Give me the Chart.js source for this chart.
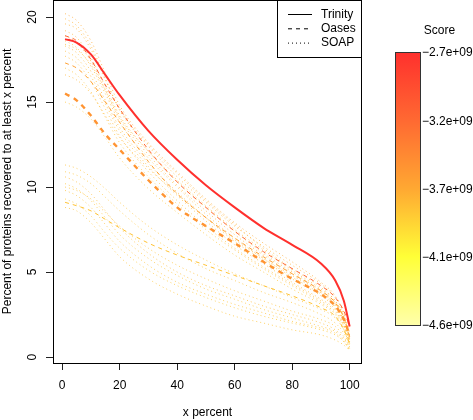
<!DOCTYPE html>
<html>
<head>
<meta charset="utf-8">
<script src="https://cdn.jsdelivr.net/npm/chart.js@4/dist/chart.umd.min.js"></script>
<style>
  html, body { margin: 0; padding: 0; background: #fff; }
</style>
</head>
<body>
<canvas id="grafico" width="473" height="420"></canvas>
<script>
// Dados
const xPercent = [1, 5, 10, 15, 20, 30, 40, 50, 60, 70, 80, 90, 95, 98, 100];
const xTicks = [0, 20, 40, 60, 80, 100];
const yTicks = [0, 5, 10, 15, 20];
const scoreLabels = ['\u22122.7e+09', '\u22123.2e+09', '\u22123.7e+09', '\u22124.1e+09', '\u22124.6e+09'];
const scoreMin = -4.6e9;
const scoreMax = -2.7e9;

// Trinity (linha contínua)
const trinity = [18.7, 18.5, 17.8, 16.6, 15.4, 13.3, 11.6, 10.1, 8.8, 7.6, 6.6, 5.5, 4.5, 3.3, 1.8];
const trinityScore = -2.7e9;

// Oases (tracejadas)
const oases = [
  [18.9, 18.6, 17.5, 16.0, 14.6, 12.2, 10.3, 8.8, 7.4, 6.2, 5.2, 4.2, 3.5, 2.7, 1.8],
  [15.5, 15.1, 14.2, 13.1, 12.2, 10.4, 8.8, 7.7, 6.7, 5.6, 4.6, 3.7, 3.0, 2.2, 1.3],
  [17.3, 17.0, 16.2, 15.0, 13.8, 11.5, 9.6, 8.2, 7.0, 5.9, 4.9, 3.9, 3.2, 2.3, 1.2],
  [9.1, 8.9, 8.6, 8.1, 7.6, 6.7, 6.0, 5.4, 4.8, 4.2, 3.6, 2.9, 2.4, 1.6, 0.8]
];
const oasesScores = [-3.15e9, -3.5e9, -3.6e9, -3.8e9];
const oasesWidth = [1, 2.4, 1, 1];

// SOAP (pontilhadas)
const soap = [
  [20.2, 19.8, 18.6, 16.7, 14.8, 12.6, 10.9, 9.3, 7.9, 6.7, 5.6, 4.4, 3.6, 2.6, 1.4],
  [19.9, 19.5, 18.3, 16.4, 14.5, 12.4, 10.6, 9.1, 7.7, 6.5, 5.4, 4.3, 3.5, 2.5, 1.3],
  [19.6, 19.3, 18.1, 16.3, 14.6, 12.5, 10.8, 9.2, 7.8, 6.4, 5.2, 4.1, 3.3, 2.4, 1.2],
  [19.2, 18.8, 17.6, 15.9, 14.2, 12.1, 10.3, 8.8, 7.4, 6.1, 5.0, 3.9, 3.2, 2.3, 1.1],
  [18.9, 18.5, 17.4, 15.7, 14.0, 11.9, 10.1, 8.6, 7.2, 6.0, 4.9, 3.8, 3.1, 2.3, 1.2],
  [18.6, 18.2, 17.1, 15.5, 13.8, 11.7, 10.0, 8.4, 7.0, 5.8, 4.7, 3.7, 3.0, 2.1, 1.0],
  [18.3, 17.9, 16.8, 15.1, 13.5, 11.4, 9.7, 8.2, 6.8, 5.7, 4.6, 3.6, 2.9, 2.0, 0.9],
  [18.0, 17.6, 16.5, 14.9, 13.3, 11.2, 9.5, 8.0, 6.6, 5.5, 4.4, 3.4, 2.8, 1.9, 0.9],
  [17.7, 17.3, 16.2, 14.6, 13.0, 10.9, 9.2, 7.7, 6.4, 5.3, 4.3, 3.3, 2.7, 1.8, 0.8],
  [17.0, 16.6, 15.6, 14.1, 12.6, 10.6, 9.0, 7.5, 6.3, 5.2, 4.2, 3.2, 2.6, 1.8, 0.8],
  [16.6, 16.3, 15.5, 14.2, 12.9, 11.1, 9.6, 8.2, 6.9, 5.8, 4.8, 3.8, 3.1, 2.1, 1.0],
  [15.0, 14.7, 14.0, 12.9, 11.7, 9.9, 8.5, 7.2, 6.0, 5.0, 4.0, 3.1, 2.5, 1.6, 0.7],
  [18.4, 18.1, 17.2, 15.7, 14.1, 12.1, 10.4, 8.9, 7.5, 6.3, 5.1, 4.0, 3.3, 2.3, 1.0],
  [11.3, 11.1, 10.6, 9.9, 9.1, 7.7, 6.6, 5.7, 4.9, 4.2, 3.5, 2.8, 2.3, 1.6, 0.8],
  [10.9, 10.7, 10.2, 9.4, 8.6, 7.2, 6.1, 5.2, 4.5, 3.8, 3.2, 2.5, 2.0, 1.4, 0.7],
  [10.6, 10.3, 9.6, 8.6, 7.6, 6.1, 5.0, 4.2, 3.6, 3.0, 2.5, 2.0, 1.6, 1.1, 0.6],
  [10.2, 9.9, 9.2, 8.2, 7.2, 5.8, 4.8, 4.0, 3.4, 2.8, 2.3, 1.8, 1.5, 1.0, 0.5],
  [9.8, 9.5, 8.8, 7.8, 6.8, 5.4, 4.4, 3.7, 3.1, 2.6, 2.1, 1.7, 1.4, 0.9, 0.5],
  [9.3, 9.0, 8.3, 7.3, 6.4, 5.1, 4.2, 3.5, 2.9, 2.4, 2.0, 1.6, 1.3, 0.9, 0.4],
  [8.8, 8.6, 7.9, 6.9, 5.9, 4.6, 3.7, 3.0, 2.4, 2.0, 1.6, 1.3, 1.0, 0.7, 0.4],
  [10.0, 9.8, 9.3, 8.5, 7.7, 6.4, 5.4, 4.6, 3.9, 3.3, 2.7, 2.2, 1.8, 1.2, 0.6]
];
const soapScores = [-3.65e9, -3.7e9, -3.7e9, -3.72e9, -3.68e9, -3.75e9, -3.72e9, -3.75e9, -3.75e9,
  -3.78e9, -3.72e9, -3.8e9, -3.75e9, -3.78e9, -3.8e9, -3.75e9, -3.8e9, -3.78e9, -3.82e9, -3.8e9, -3.78e9];

// Escala de cores (de baixo para cima na barra)
const coresEscala = [[255, 255, 170], [255, 255, 55], [255, 168, 50], [255, 105, 50], [255, 48, 45]];

const fonte = '"Liberation Sans", Arial, Helvetica, sans-serif';

function corDoScore(score, alpha) {
  let t = (score - scoreMin) / (scoreMax - scoreMin);
  t = Math.max(0, Math.min(1, t)) * (coresEscala.length - 1);
  const i = Math.min(Math.floor(t), coresEscala.length - 2);
  const f = t - i;
  const a = coresEscala[i], b = coresEscala[i + 1];
  const c = a.map((v, k) => Math.round(v + (b[k] - v) * f));
  return `rgba(${c[0]},${c[1]},${c[2]},${alpha})`;
}

function serie(valores, score, largura, traco, alpha) {
  return {
    data: xPercent.map((x, i) => ({ x, y: valores[i] })),
    borderColor: corDoScore(score, alpha),
    borderWidth: largura,
    borderDash: traco,
    pointRadius: 0,
    fill: false,
    cubicInterpolationMode: 'monotone'
  };
}

const datasets = [];
// primeiro dataset fica por cima
datasets.push(serie(trinity, trinityScore, 2, [], 1));
oases.forEach((v, i) => datasets.push(serie(v, oasesScores[i], oasesWidth[i], oasesWidth[i] > 1 ? [5, 5] : [4, 4], 1)));
soap.forEach((v, i) => datasets.push(serie(v, soapScores[i], 1, [1, 3], 0.75)));

// Plugin para moldura, legenda, rótulos do eixo y e barra de cores
const moldura = {
  id: 'moldura',
  beforeDraw(chart) {
    const ctx = chart.ctx;
    ctx.save();
    ctx.fillStyle = '#fff';
    ctx.fillRect(0, 0, chart.width, chart.height);
    ctx.restore();
  },
  afterDraw(chart) {
    const ctx = chart.ctx;
    const area = chart.chartArea;
    const y = chart.scales.y;
    ctx.save();

    // caixa do gráfico
    ctx.strokeStyle = '#000';
    ctx.lineWidth = 1;
    ctx.setLineDash([]);
    ctx.strokeRect(area.left + 0.5, area.top + 0.5, area.right - area.left - 1, area.bottom - area.top);

    // rótulos do eixo y (rotacionados)
    ctx.fillStyle = '#000';
    ctx.font = '12px ' + fonte;
    ctx.textAlign = 'center';
    ctx.textBaseline = 'middle';
    yTicks.forEach(v => {
      ctx.save();
      ctx.translate(32.5, y.getPixelForValue(v));
      ctx.rotate(-Math.PI / 2);
      ctx.fillText(String(v), 0, 0);
      ctx.restore();
    });

    // legenda
    const lx = 277.5, ly = area.top + 0.5, lw = area.right - 0.5 - lx, lh = 57;
    ctx.fillStyle = '#fff';
    ctx.fillRect(lx, ly, lw, lh);
    ctx.strokeStyle = '#000';
    ctx.strokeRect(lx, ly, lw, lh);
    const itens = [['Trinity', []], ['Oases', [4, 4]], ['SOAP', [1, 3]]];
    itens.forEach((it, i) => {
      const yy = 14.5 + i * 14.3;
      ctx.setLineDash(it[1]);
      ctx.beginPath();
      ctx.moveTo(288, yy);
      ctx.lineTo(312, yy);
      ctx.stroke();
      ctx.setLineDash([]);
      ctx.fillStyle = '#000';
      ctx.textAlign = 'left';
      ctx.fillText(it[0], 321, yy);
    });

    // barra de cores
    const bx = 395, bTop = 52, bBot = 325, bw = 25;
    const grad = ctx.createLinearGradient(0, bBot, 0, bTop);
    coresEscala.forEach((c, i) => grad.addColorStop(i / (coresEscala.length - 1), `rgb(${c[0]},${c[1]},${c[2]})`));
    ctx.fillStyle = grad;
    ctx.fillRect(bx, bTop, bw, bBot - bTop);
    ctx.strokeStyle = '#333';
    ctx.strokeRect(bx + 0.5, bTop + 0.5, bw, bBot - bTop);
    ctx.fillStyle = '#000';
    ctx.textAlign = 'left';
    scoreLabels.forEach((t, i) => {
      ctx.fillText(t, 422, bTop + 1 + i * (bBot - bTop) / (scoreLabels.length - 1));
    });
    ctx.textAlign = 'center';
    ctx.fillText('Score', 439.5, 31);

    ctx.restore();
  }
};

const ctx = document.getElementById('grafico').getContext('2d');
new Chart(ctx, {
  type: 'line',
  data: { datasets },
  plugins: [moldura],
  options: {
    responsive: false,
    animation: false,
    devicePixelRatio: 1,
    layout: { padding: { top: 0, right: 111, bottom: 0, left: 0 } },
    plugins: {
      legend: { display: false },
      tooltip: { enabled: false }
    },
    scales: {
      x: {
        type: 'linear',
        min: -3.2,
        max: 104.3,
        afterBuildTicks: s => { s.ticks = xTicks.map(v => ({ value: v })); },
        afterFit: s => { s.height = 57; },
        grid: { drawOnChartArea: false, drawTicks: true, tickLength: 7, color: '#222' },
        border: { display: false },
        ticks: { color: '#000', font: { size: 12, family: fonte }, padding: 8, maxRotation: 0, autoSkip: false },
        title: { display: true, text: 'x percent', color: '#000', font: { size: 12, family: fonte }, padding: { top: 0, bottom: 0 } }
      },
      y: {
        type: 'linear',
        min: -0.35,
        max: 21.0,
        afterBuildTicks: s => { s.ticks = yTicks.map(v => ({ value: v })); },
        afterFit: s => { s.width = 53; },
        grid: { drawOnChartArea: false, drawTicks: true, tickLength: 7, color: '#222' },
        border: { display: false },
        ticks: { display: false },
        title: { display: true, text: 'Percent of proteins recovered to at least x percent', color: '#000', font: { size: 12, family: fonte }, padding: { top: 0, bottom: 0 } }
      }
    }
  }
});
</script>
</body>
</html>
